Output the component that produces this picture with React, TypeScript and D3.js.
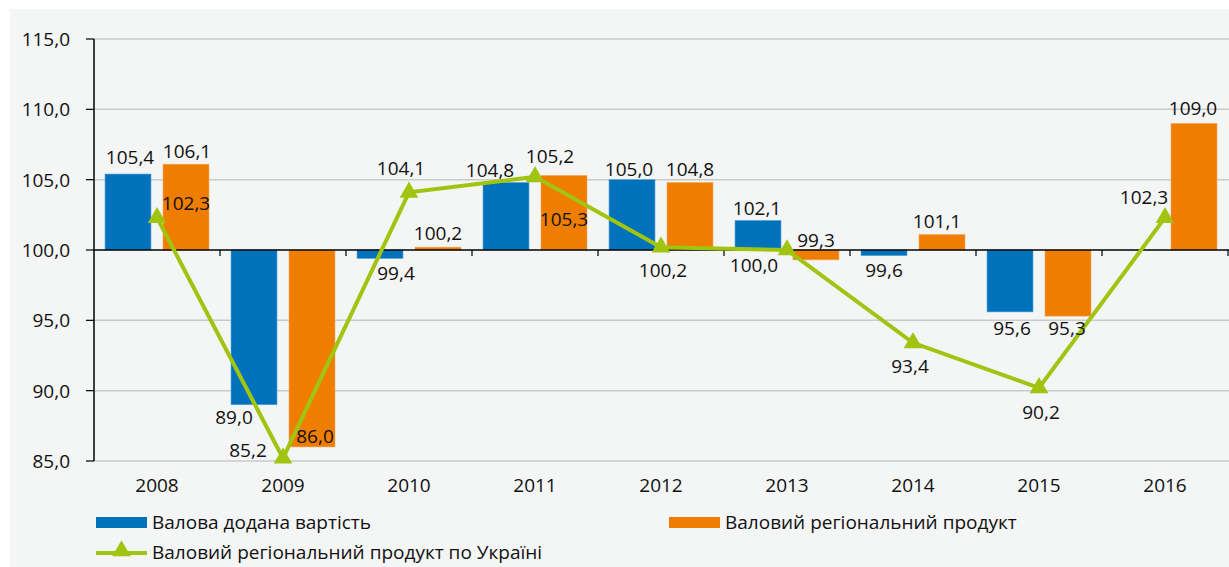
import * as d3 from "d3"

const years = ["2008", "2009", "2010", "2011", "2012", "2013", "2014", "2015", "2016"]
const grossValueAdded: (number | null)[] = [105.4, 89.0, 99.4, 104.8, 105.0, 102.1, 99.6, 95.6, null]
const grossRegionalProduct = [106.1, 86.0, 100.2, 105.3, 104.8, 99.3, 101.1, 95.3, 109.0]
const ukraineGrp = [102.3, 85.2, 104.1, 105.2, 100.2, 100.0, 93.4, 90.2, 102.3]
const yTicks = [85, 90, 95, 100, 105, 110, 115]

const seriesNames = [
  "Валова додана вартість",
  "Валовий регіональний продукт",
  "Валовий регіональний продукт по Україні",
]

// label nudges [dx, dy] from the mark end, hand-placed like in the source
const blueNudge = [[2, -17], [-20, 12], [16, 15], [-16, -12], [-3, -11], [-1, -12], [0, 14], [2, 16], [0, 0]]
const orangeNudge = [[1, -13], [3, -11], [0, -14], [0, 44], [0, -13], [0, -20], [-5, -14], [-1, 12], [-1, -15]]
const greenNudge = [[29, -15], [-35, -8], [-8, -24], [15, -21], [2, 23], [-33, 15], [-3, 23], [2, 24], [-21, -21]]

const W = 1229
const H = 567
const BLUE = "#0072bc"
const ORANGE = "#ee7d00"
const GREEN = "#a0c40f"
const FONT = "'Open Sans', sans-serif"
const FS = 19

const fmt = (v: number) => v.toFixed(1).replace(".", ",")

export default function App() {
  const x = d3.scaleBand<string>().domain(years).range([94, 1228])
  const inner = d3.scaleBand<string>().domain(["a", "b"]).range([0, x.bandwidth()]).paddingInner(0.207).paddingOuter(0.19)
  const y = d3.scaleLinear().domain([85, 115]).range([461, 39])
  const base = y(100)
  const bw = inner.bandwidth()

  const line = d3
    .line<number>()
    .x((_, i) => x(years[i])! + x.bandwidth() / 2)
    .y((d) => y(d))
  const tri = d3.symbol(d3.symbolTriangle, 150)()!

  return (
    <svg width={W} height={H} style={{ position: "absolute", left: 0, top: 0 }} fontFamily={FONT}>
      <rect x={10} y={9} width={W - 10} height={H - 9} fill="#f4f5f5" />

      {/* grid */}
      {yTicks.map((t) => (
        <g key={t}>
          {t !== 100 && <line x1={94} x2={1229} y1={y(t)} y2={y(t)} stroke="#c9cacc" strokeWidth={1.5} />}
          <line x1={86} x2={94} y1={y(t)} y2={y(t)} stroke="#000" strokeWidth={1.2} />
          <text x={70} y={y(t)} textAnchor="end" dominantBaseline="central" fontSize={FS} fill="#111">
            {fmt(t)}
          </text>
        </g>
      ))}

      {/* bars */}
      {years.map((yr, i) => {
        const bx = x(yr)!
        const v1 = grossValueAdded[i]
        const v2 = grossRegionalProduct[i]
        return (
          <g key={yr}>
            {v1 != null && (
              <rect
                x={bx + inner("a")!}
                y={Math.min(y(v1), base)}
                width={bw}
                height={Math.abs(y(v1) - base)}
                fill={BLUE}
                stroke="#5aa3da"
                strokeWidth={0.6}
              />
            )}
            <rect
              x={bx + inner("b")!}
              y={Math.min(y(v2), base)}
              width={bw}
              height={Math.abs(y(v2) - base)}
              fill={ORANGE}
              stroke="#f4a860"
              strokeWidth={0.6}
            />
          </g>
        )
      })}

      {/* axes */}
      <line x1={94} x2={94} y1={y(115)} y2={y(85)} stroke="#000" strokeWidth={1.5} />
      <line x1={94} x2={1229} y1={base} y2={base} stroke="#000" strokeWidth={1.5} />
      {years.map((yr) => (
        <line key={yr} x1={x(yr)! + x.bandwidth()} x2={x(yr)! + x.bandwidth()} y1={base} y2={base + 6} stroke="#000" strokeWidth={1.2} />
      ))}
      {years.map((yr) => (
        <text key={yr} x={x(yr)! + x.bandwidth() / 2} y={485} textAnchor="middle" dominantBaseline="central" fontSize={FS} fill="#111">
          {yr}
        </text>
      ))}

      {/* Ukraine line */}
      <path d={line(ukraineGrp)!} fill="none" stroke={GREEN} strokeWidth={4} />
      {ukraineGrp.map((v, i) => (
        <path key={i} d={tri} transform={`translate(${x(years[i])! + x.bandwidth() / 2},${y(v)})`} fill={GREEN} />
      ))}

      {/* value labels */}
      {years.map((yr, i) => {
        const bx = x(yr)!
        const v1 = grossValueAdded[i]
        const v2 = grossRegionalProduct[i]
        const v3 = ukraineGrp[i]
        const cx1 = bx + inner("a")! + bw / 2
        const cx2 = bx + inner("b")! + bw / 2
        const cx3 = bx + x.bandwidth() / 2
        return (
          <g key={yr} fontSize={FS} fill="#111" textAnchor="middle" dominantBaseline="central">
            {v1 != null && (
              <text x={cx1 + blueNudge[i][0]} y={y(v1) + blueNudge[i][1]}>
                {fmt(v1)}
              </text>
            )}
            <text x={cx2 + orangeNudge[i][0]} y={y(v2) + orangeNudge[i][1]}>
              {fmt(v2)}
            </text>
            <text x={cx3 + greenNudge[i][0]} y={y(v3) + greenNudge[i][1]}>
              {fmt(v3)}
            </text>
          </g>
        )
      })}

      {/* legend */}
      <g fontSize={FS} fill="#111" dominantBaseline="central">
        <rect x={96} y={517} width={51} height={11} fill={BLUE} />
        <text x={152} y={522}>{seriesNames[0]}</text>
        <rect x={669} y={517} width={51} height={11} fill={ORANGE} />
        <text x={725} y={522}>{seriesNames[1]}</text>
        <line x1={96} x2={147} y1={553} y2={553} stroke={GREEN} strokeWidth={4} />
        <path d={tri} transform="translate(121.5,551)" fill={GREEN} />
        <text x={152} y={552}>{seriesNames[2]}</text>
      </g>
    </svg>
  )
}
